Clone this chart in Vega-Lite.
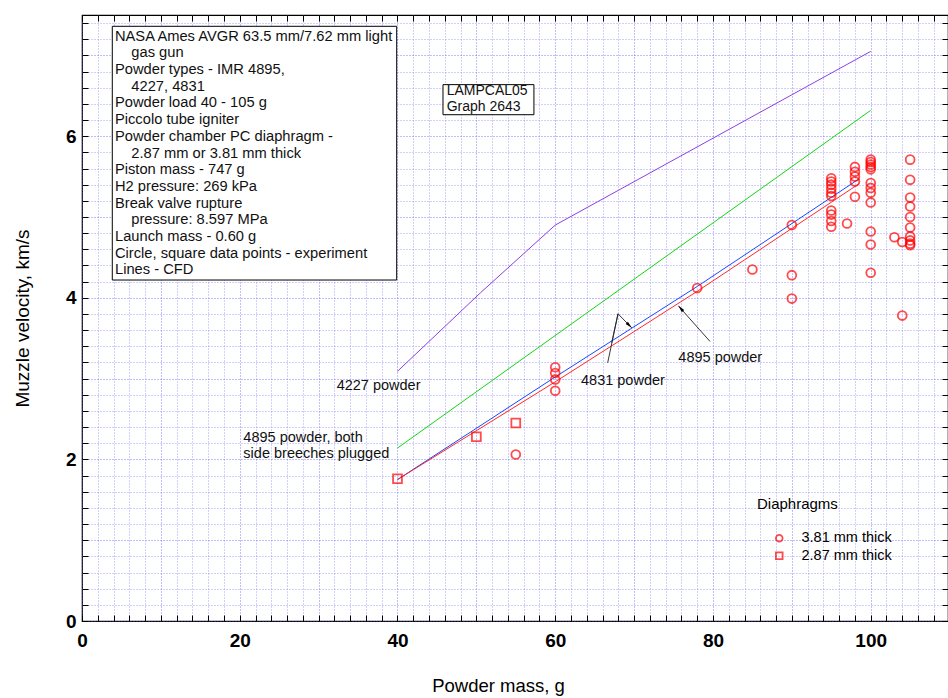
{
  "$schema": "https://vega.github.io/schema/vega-lite/v6.json",
  "width": 866,
  "height": 606,
  "autosize": {"type": "none"},
  "padding": {"left": 82, "top": 15, "right": 0, "bottom": 77},
  "background": "white",
  "config": {
    "view": {"stroke": "black", "strokeWidth": 1.2, "fill": "white"},
    "font": "Liberation Sans"
  },
  "data": {"values": [{}]},
  "datasets": {
    "cfd": [
      {"s": "4227", "m": 40, "v": 3.09},
      {"s": "4227", "m": 50.5, "v": 4.06},
      {"s": "4227", "m": 60, "v": 4.9},
      {"s": "4227", "m": 100, "v": 7.05},
      {"s": "4895 plugged", "m": 40, "v": 2.14},
      {"s": "4895 plugged", "m": 100, "v": 6.32},
      {"s": "4831", "m": 40, "v": 1.75},
      {"s": "4831", "m": 60, "v": 3.02},
      {"s": "4831", "m": 78, "v": 4.14},
      {"s": "4831", "m": 98.5, "v": 5.47},
      {"s": "4895", "m": 40, "v": 1.75},
      {"s": "4895", "m": 60, "v": 2.96},
      {"s": "4895", "m": 78, "v": 4.08},
      {"s": "4895", "m": 98.5, "v": 5.41}
    ],
    "exp": [
      {"d": "2.87 mm thick", "m": 40, "v": 1.76},
      {"d": "2.87 mm thick", "m": 50, "v": 2.28},
      {"d": "2.87 mm thick", "m": 55, "v": 2.45},
      {"d": "3.81 mm thick", "m": 55, "v": 2.06},
      {"d": "3.81 mm thick", "m": 60, "v": 3.14},
      {"d": "3.81 mm thick", "m": 60, "v": 3.07},
      {"d": "3.81 mm thick", "m": 60, "v": 2.99},
      {"d": "3.81 mm thick", "m": 60, "v": 2.85},
      {"d": "3.81 mm thick", "m": 78, "v": 4.12},
      {"d": "3.81 mm thick", "m": 85, "v": 4.35},
      {"d": "3.81 mm thick", "m": 90, "v": 4.9},
      {"d": "3.81 mm thick", "m": 90, "v": 4.28},
      {"d": "3.81 mm thick", "m": 90, "v": 3.99},
      {"d": "3.81 mm thick", "m": 95, "v": 5.48},
      {"d": "3.81 mm thick", "m": 95, "v": 5.44},
      {"d": "3.81 mm thick", "m": 95, "v": 5.4},
      {"d": "3.81 mm thick", "m": 95, "v": 5.35},
      {"d": "3.81 mm thick", "m": 95, "v": 5.3},
      {"d": "3.81 mm thick", "m": 95, "v": 5.26},
      {"d": "3.81 mm thick", "m": 95, "v": 5.08},
      {"d": "3.81 mm thick", "m": 95, "v": 5.03},
      {"d": "3.81 mm thick", "m": 95, "v": 4.95},
      {"d": "3.81 mm thick", "m": 95, "v": 4.88},
      {"d": "3.81 mm thick", "m": 97, "v": 4.92},
      {"d": "3.81 mm thick", "m": 98, "v": 5.62},
      {"d": "3.81 mm thick", "m": 98, "v": 5.56},
      {"d": "3.81 mm thick", "m": 98, "v": 5.5},
      {"d": "3.81 mm thick", "m": 98, "v": 5.44},
      {"d": "3.81 mm thick", "m": 98, "v": 5.25},
      {"d": "3.81 mm thick", "m": 100, "v": 5.71},
      {"d": "3.81 mm thick", "m": 100, "v": 5.68},
      {"d": "3.81 mm thick", "m": 100, "v": 5.65},
      {"d": "3.81 mm thick", "m": 100, "v": 5.62},
      {"d": "3.81 mm thick", "m": 100, "v": 5.59},
      {"d": "3.81 mm thick", "m": 100, "v": 5.42},
      {"d": "3.81 mm thick", "m": 100, "v": 5.36},
      {"d": "3.81 mm thick", "m": 100, "v": 5.3},
      {"d": "3.81 mm thick", "m": 100, "v": 5.18},
      {"d": "3.81 mm thick", "m": 100, "v": 4.82},
      {"d": "3.81 mm thick", "m": 100, "v": 4.66},
      {"d": "3.81 mm thick", "m": 100, "v": 4.31},
      {"d": "3.81 mm thick", "m": 103, "v": 4.75},
      {"d": "3.81 mm thick", "m": 104, "v": 4.69},
      {"d": "3.81 mm thick", "m": 104, "v": 3.78},
      {"d": "3.81 mm thick", "m": 105, "v": 5.71},
      {"d": "3.81 mm thick", "m": 105, "v": 5.46},
      {"d": "3.81 mm thick", "m": 105, "v": 5.24},
      {"d": "3.81 mm thick", "m": 105, "v": 5.13},
      {"d": "3.81 mm thick", "m": 105, "v": 5.0},
      {"d": "3.81 mm thick", "m": 105, "v": 4.87},
      {"d": "3.81 mm thick", "m": 105, "v": 4.76},
      {"d": "3.81 mm thick", "m": 105, "v": 4.71},
      {"d": "3.81 mm thick", "m": 105, "v": 4.67},
      {"d": "3.81 mm thick", "m": 105, "v": 4.65}
    ],
    "leaders": [
      {"m": 66.65, "v": 3.195, "m2": 67.96, "v2": 3.802},
      {"m": 67.96, "v": 3.802, "m2": 69.7, "v2": 3.628},
      {"m": 67.96, "v": 3.802, "m2": 67.16, "v2": 3.443},
      {"m": 79.63, "v": 3.459, "m2": 75.61, "v2": 3.901}
    ]
  },
  "layer": [
    {
      "data": {"name": "cfd"},
      "mark": {"type": "line", "strokeWidth": 1, "clip": true},
      "encoding": {
        "x": {
          "field": "m", "type": "quantitative",
          "scale": {"domain": [0, 109.8], "nice": false, "zero": false},
          "axis": {
            "orient": "bottom",
            "values": [0,2,4,6,8,10,12,14,16,18,20,22,24,26,28,30,32,34,36,38,40,42,44,46,48,50,52,54,56,58,60,62,64,66,68,70,72,74,76,78,80,82,84,86,88,90,92,94,96,98,100,102,104,106,108],
            "labelExpr": "datum.value % 20 === 0 ? '' + datum.value : ''",
            "labelOverlap": false, "labelFlush": false,
            "labelFont": "Liberation Sans", "labelFontWeight": "bold", "labelFontSize": 19, "labelColor": "black",
            "labelPadding": 16,
            "tickSize": -6, "tickColor": "black", "tickWidth": 1,
            "domain": false,
            "grid": true,
            "gridColor": {"condition": {"test": "datum.value % 10 === 0", "value": "#4848ff"}, "value": "#7878ff"},
            "gridDash": [1, 2], "gridOpacity": 0.7, "gridWidth": 1,
            "title": "Powder mass, g", "titleFont": "Liberation Sans", "titleFontSize": 18.5, "titleFontWeight": "normal", "titleColor": "black", "titlePadding": 26,
            "titleX": 416
          }
        },
        "y": {
          "field": "v", "type": "quantitative",
          "scale": {"domain": [0, 7.5], "nice": false, "zero": false},
          "axis": {
            "orient": "left",
            "values": [0,0.2,0.4,0.6,0.8,1,1.2,1.4,1.6,1.8,2,2.2,2.4,2.6,2.8,3,3.2,3.4,3.6,3.8,4,4.2,4.4,4.6,4.8,5,5.2,5.4,5.6,5.8,6,6.2,6.4,6.6,6.8,7,7.2,7.4],
            "labelExpr": "datum.value % 2 === 0 ? '' + datum.value : ''",
            "labelOverlap": false, "labelFlush": false,
            "labelFont": "Liberation Sans", "labelFontWeight": "bold", "labelFontSize": 19, "labelColor": "black",
            "labelPadding": 12,
            "tickSize": -6, "tickColor": "black", "tickWidth": 1,
            "domain": false,
            "grid": true,
            "gridColor": {"condition": {"test": "datum.value % 1 === 0", "value": "#4848ff"}, "value": "#7878ff"},
            "gridDash": [1, 2], "gridOpacity": 0.7, "gridWidth": 1,
            "title": "Muzzle velocity, km/s", "titleFont": "Liberation Sans", "titleFontSize": 19, "titleFontWeight": "normal", "titleColor": "black", "titlePadding": 33
          }
        },
        "color": {
          "field": "s", "type": "nominal",
          "scale": {"domain": ["4227", "4895 plugged", "4831", "4895"], "range": ["#8a40e8", "#10d810", "#1848ff", "#ff2828"]},
          "legend": null
        },
        "detail": {"field": "s"}
      }
    },
    {
      "data": {"name": "exp"},
      "mark": {"type": "point", "filled": false, "color": "#ff0000", "strokeWidth": 1.8, "size": 78},
      "encoding": {
        "x": {"field": "m", "type": "quantitative", "axis": null},
        "y": {"field": "v", "type": "quantitative", "axis": null},
        "shape": {
          "field": "d", "type": "nominal",
          "scale": {"domain": ["3.81 mm thick", "2.87 mm thick"], "range": ["circle", "square"]},
          "legend": {
            "title": "Diaphragms", "orient": "none", "legendX": 675, "legendY": 482,
            "padding": 0,
            "titleFont": "Liberation Sans", "titleFontSize": 15, "titleFontWeight": "normal", "titleColor": "black", "titlePadding": 19,
            "labelFont": "Liberation Sans", "labelFontSize": 14.5, "labelColor": "black", "labelOffset": 15,
            "symbolSize": 45, "symbolStrokeWidth": 1.8, "symbolStrokeColor": "#ff0000", "symbolFillColor": "transparent", "symbolOffset": 15,
            "rowPadding": 1.5
          }
        }
      }
    },
    {
      "mark": {"type": "rect", "fill": "white", "stroke": "black", "strokeWidth": 1},
      "encoding": {
        "x": {
          "datum": 3.84, "type": "quantitative",
          "axis": {
            "orient": "top", "labels": false, "title": null, "grid": false, "domain": false,
            "values": [0,2,4,6,8,10,12,14,16,18,20,22,24,26,28,30,32,34,36,38,40,42,44,46,48,50,52,54,56,58,60,62,64,66,68,70,72,74,76,78,80,82,84,86,88,90,92,94,96,98,100,102,104,106,108],
            "tickSize": -6, "tickColor": "black"
          }
        },
        "x2": {"datum": 39.9},
        "y": {
          "datum": 7.36, "type": "quantitative",
          "axis": {
            "orient": "right", "labels": false, "title": null, "grid": false, "domain": false,
            "values": [0,0.2,0.4,0.6,0.8,1,1.2,1.4,1.6,1.8,2,2.2,2.4,2.6,2.8,3,3.2,3.4,3.6,3.8,4,4.2,4.4,4.6,4.8,5,5.2,5.4,5.6,5.8,6,6.2,6.4,6.6,6.8,7,7.2,7.4],
            "tickSize": -6, "tickColor": "black"
          }
        },
        "y2": {"datum": 4.22}
      }
    },
    {
      "mark": {
        "type": "text", "align": "left", "baseline": "alphabetic", "lineBreak": "\n", "lineHeight": 16.7,
        "font": "Liberation Sans", "fontSize": 14.7, "color": "#111",
        "text": "NASA Ames AVGR 63.5 mm/7.62 mm light\n\u200b\u00a0\u00a0\u00a0\u00a0gas gun\nPowder types - IMR 4895,\n\u200b\u00a0\u00a0\u00a0\u00a04227, 4831\nPowder load 40 - 105 g\nPiccolo tube igniter\nPowder chamber PC diaphragm -\n\u200b\u00a0\u00a0\u00a0\u00a02.87 mm or 3.81 mm thick\nPiston mass - 747 g\nH2 pressure: 269 kPa\nBreak valve rupture\n\u200b\u00a0\u00a0\u00a0\u00a0pressure: 8.597 MPa\nLaunch mass - 0.60 g\nCircle, square data points - experiment\nLines - CFD"
      },
      "encoding": {
        "x": {"datum": 4.18, "type": "quantitative", "axis": null},
        "y": {"datum": 7.183, "type": "quantitative", "axis": null}
      }
    },
    {
      "mark": {"type": "rect", "fill": "white", "stroke": "black", "strokeWidth": 1},
      "encoding": {
        "x": {"datum": 45.77, "type": "quantitative", "axis": null},
        "x2": {"datum": 57.3},
        "y": {"datum": 6.638, "type": "quantitative", "axis": null},
        "y2": {"datum": 6.266}
      }
    },
    {
      "mark": {
        "type": "text", "align": "left", "baseline": "alphabetic", "lineBreak": "\n", "lineHeight": 15.3,
        "font": "Liberation Sans", "fontSize": 14, "color": "#111",
        "text": "LAMPCAL05\nGraph 2643"
      },
      "encoding": {
        "x": {"datum": 46.24, "type": "quantitative", "axis": null},
        "y": {"datum": 6.505, "type": "quantitative", "axis": null}
      }
    },
    {
      "mark": {"type": "text", "align": "left", "baseline": "alphabetic", "font": "Liberation Sans", "fontSize": 14.5, "color": "#111", "text": "4227 powder"},
      "encoding": {
        "x": {"datum": 32.29, "type": "quantitative", "axis": null},
        "y": {"datum": 2.861, "type": "quantitative", "axis": null}
      }
    },
    {
      "mark": {"type": "text", "align": "left", "baseline": "alphabetic", "lineBreak": "\n", "lineHeight": 16.7, "font": "Liberation Sans", "fontSize": 14.5, "color": "#111", "text": "4895 powder, both\nside breeches plugged"},
      "encoding": {
        "x": {"datum": 20.46, "type": "quantitative", "axis": null},
        "y": {"datum": 2.221, "type": "quantitative", "axis": null}
      }
    },
    {
      "mark": {"type": "text", "align": "left", "baseline": "alphabetic", "font": "Liberation Sans", "fontSize": 14.5, "color": "#111", "text": "4831 powder"},
      "encoding": {
        "x": {"datum": 63.27, "type": "quantitative", "axis": null},
        "y": {"datum": 2.923, "type": "quantitative", "axis": null}
      }
    },
    {
      "mark": {"type": "text", "align": "left", "baseline": "alphabetic", "font": "Liberation Sans", "fontSize": 14.5, "color": "#111", "text": "4895 powder"},
      "encoding": {
        "x": {"datum": 75.61, "type": "quantitative", "axis": null},
        "y": {"datum": 3.211, "type": "quantitative", "axis": null}
      }
    },
    {
      "data": {"name": "leaders"},
      "mark": {"type": "rule", "color": "#222", "strokeWidth": 0.9},
      "encoding": {
        "x": {"field": "m", "type": "quantitative", "axis": null},
        "y": {"field": "v", "type": "quantitative", "axis": null},
        "x2": {"field": "m2"},
        "y2": {"field": "v2"}
      }
    },
    {
      "mark": {"type": "point", "filled": true, "color": "black", "size": 50, "opacity": 1, "angle": 135.6, "shape": "M0,0L0.45,2L-0.45,2Z"},
      "encoding": {
        "x": {"datum": 69.7, "type": "quantitative", "axis": null},
        "y": {"datum": 3.628, "type": "quantitative", "axis": null}
      }
    },
    {
      "mark": {"type": "point", "filled": true, "color": "black", "size": 50, "opacity": 1, "angle": 318.4, "shape": "M0,0L0.45,2L-0.45,2Z"},
      "encoding": {
        "x": {"datum": 75.61, "type": "quantitative", "axis": null},
        "y": {"datum": 3.901, "type": "quantitative", "axis": null}
      }
    }
  ]
}
